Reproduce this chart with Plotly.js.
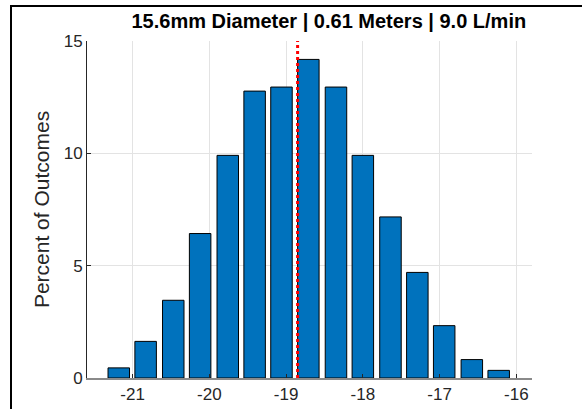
<!DOCTYPE html>
<html>
<head>
<meta charset="utf-8">
<script src="https://cdn.plot.ly/plotly-3.0.1.min.js"></script>
<style>
  html, body { margin: 0; padding: 0; background: #fff; }
  #wrap { position: relative; width: 582px; height: 409px; overflow: hidden; }
  #chart { position: absolute; left: 0; top: 0; width: 582px; height: 409px; }
  #frame { position: absolute; left: 10px; top: 5px; width: 600px; height: 420px;
           border-left: 2px solid #000; border-top: 2px solid #000; pointer-events: none; }
</style>
</head>
<body>
<div id="wrap">
  <div id="chart"></div>
  <div id="frame"></div>
</div>
<script>
// Bin centres (flow error bins) and percent of outcomes
const binCenters = [-21.18, -20.83, -20.47, -20.12, -19.76, -19.41, -19.06, -18.71,
                    -18.35, -18.00, -17.64, -17.29, -16.94, -16.58, -16.23];
const percentOutcomes = [0.45, 1.63, 3.46, 6.43, 9.91, 12.77, 12.95, 14.18,
                         12.95, 9.91, 7.17, 4.70, 2.33, 0.82, 0.34];
const meanValue = -18.85;
const xTicks = [-21, -20, -19, -18, -17, -16];
const yTicks = [0, 5, 10, 15];
const titleText = '15.6mm Diameter | 0.61 Meters | 9.0 L/min';
const yTitle = 'Percent of Outcomes';

const bars = {
  type: 'bar',
  x: binCenters,
  y: percentOutcomes,
  marker: { color: '#0072BD', line: { color: '#000000', width: 1 } },
  hoverinfo: 'x+y'
};
const meanLine = {
  type: 'scatter',
  mode: 'lines',
  x: [meanValue, meanValue],
  y: [yTicks[0], yTicks[yTicks.length - 1]],
  line: { color: '#ff0000', width: 3, dash: 'dot' },
  hoverinfo: 'skip'
};

const layout = {
  width: 582, height: 409,
  margin: { l: 87, r: 50, t: 41, b: 31 },
  paper_bgcolor: '#ffffff',
  plot_bgcolor: '#ffffff',
  showlegend: false,
  bargap: 0.2,
  font: { family: 'Liberation Sans, Arial, sans-serif', color: '#262626', size: 17 },
  title: {
    text: '<b>' + titleText + '</b>',
    font: { family: 'Liberation Sans, Arial, sans-serif', size: 20, color: '#000000' },
    x: 0.565, xanchor: 'center', y: 0.948, yanchor: 'middle'
  },
  xaxis: {
    range: [-21.594, -15.796],
    tickvals: xTicks,
    ticktext: xTicks.map(String),
    ticks: 'inside', ticklen: 4, tickcolor: '#262626',
    showgrid: true, gridcolor: '#e3e3e3', gridwidth: 1,
    zeroline: false,
    showline: true, linecolor: '#8a8a8a', linewidth: 1.5,
    tickfont: { size: 17, color: '#262626' },
    fixedrange: true
  },
  yaxis: {
    range: [0, 15],
    tickvals: yTicks,
    ticktext: yTicks.map(String),
    ticks: 'inside', ticklen: 4, tickcolor: '#262626',
    showgrid: true, gridcolor: '#e3e3e3', gridwidth: 1,
    zeroline: false,
    showline: true, linecolor: '#262626', linewidth: 1,
    tickfont: { size: 17, color: '#262626' },
    title: { text: yTitle, font: { size: 21, color: '#262626' }, standoff: 8 },
    fixedrange: true
  }
};

Plotly.newPlot('chart', [bars, meanLine], layout, { displayModeBar: false, staticPlot: true });
</script>
</body>
</html>
